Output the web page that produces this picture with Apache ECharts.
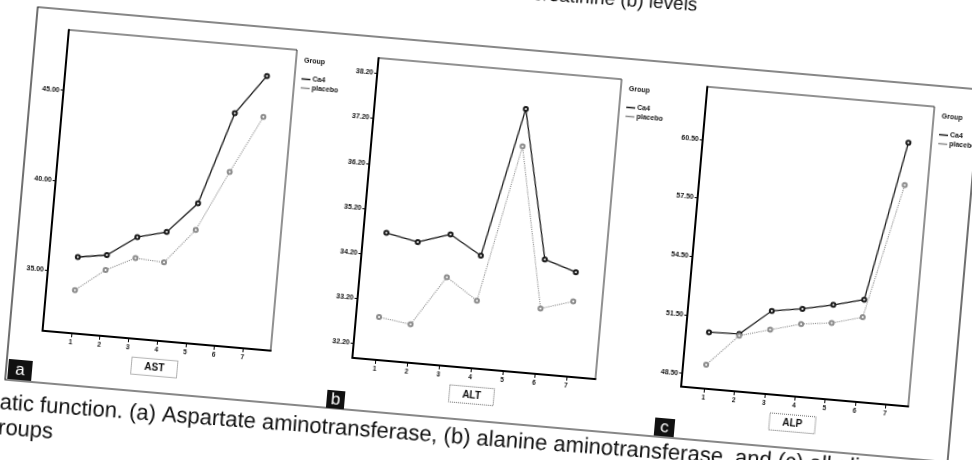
<!DOCTYPE html>
<html><head><meta charset="utf-8">
<script src="https://cdn.jsdelivr.net/npm/echarts@6/dist/echarts.min.js"></script>
<style>
html,body{margin:0;padding:0;width:972px;height:460px;overflow:hidden;background:#fff;}
#wrap{position:absolute;left:-100px;top:-60px;width:1172px;height:580px;transform-origin:586px 290px;transform:rotate(5deg);}
</style></head><body>
<div id="wrap"></div>
<script>
// ---- data ----
const groups = [1, 2, 3, 4, 5, 6, 7];
const astCa4 = [35.86, 36.11, 37.25, 37.67, 39.41, 44.56, 46.77];
const astPlacebo = [34.02, 35.28, 36.08, 35.98, 37.92, 41.29, 44.49];
const altCa4 = [34.70, 34.56, 34.79, 34.38, 37.70, 34.42, 34.20];
const altPlacebo = [32.83, 32.73, 33.84, 33.38, 36.87, 33.33, 33.55];
const alpCa4 = [50.71, 50.76, 52.08, 52.32, 52.66, 53.06, 61.25];
const alpPlacebo = [49.04, 50.67, 51.11, 51.54, 51.73, 52.16, 59.07];
const astTicks = [35, 40, 45];
const altTicks = [32.2, 33.2, 34.2, 35.2, 36.2, 37.2, 38.2];
const alpTicks = [48.5, 51.5, 54.5, 57.5, 60.5];
const panelNames = ['AST', 'ALT', 'ALP'];
const panelLetters = ['a', 'b', 'c'];
const seriesNames = ['Ca4', 'placebo'];
const legendTitle = 'Group';
const captionLine1 = 'hepatic function. (a) Aspartate aminotransferase, (b) alanine aminotransferase, and (c) alkaline phosphatase';
const captionLine2 = 'groups';
const topLine = 'creatinine (b) levels';

// ---- layout ----
const grids = [
  {left: 153, top: 127, width: 229, height: 302},
  {left: 464, top: 128, width: 244, height: 301},
  {left: 794, top: 128, width: 228, height: 301}
];
const xRanges = [[0, 7.96], [0.28, 7.9], [0.24, 7.75]];
const yRanges = [[31.62, 48.36], [31.88, 38.54], [47.82, 63.2]];
const yTicks = [astTicks, altTicks, alpTicks];
const ca4 = [astCa4, altCa4, alpCa4];
const plc = [astPlacebo, altPlacebo, alpPlacebo];
const letterBoxes = [
  {x: 122, y: 460, w: 24, h: 20},
  {x: 442, y: 463, w: 18, h: 18},
  {x: 771, y: 462, w: 20, h: 18}
];

const FONT = 'Liberation Sans, Arial, sans-serif';
const chart = echarts.init(document.getElementById('wrap'), null, {renderer: 'canvas'});

const xAxis = [], yAxis = [], series = [], legend = [], graphic = [];
grids.forEach((g, i) => {
  xAxis.push({
    type: 'value', gridIndex: i, min: xRanges[i][0], max: xRanges[i][1],
    axisLine: {show: true, onZero: false, lineStyle: {color: '#000', width: 2}},
    axisTick: {show: true, inside: false, length: 4, customValues: groups, lineStyle: {color: '#000', width: 1}},
    axisLabel: {show: true, customValues: groups, margin: 6, fontSize: 6.5, fontWeight: 'bold', color: '#111', fontFamily: FONT,
      formatter: v => String(Math.round(v))},
    splitLine: {show: false},
    name: panelNames[i], nameLocation: 'middle', nameGap: 18,
    nameTextStyle: {fontSize: 10, fontWeight: 'bold', color: '#111', fontFamily: FONT,
      borderColor: '#666', borderWidth: 1, borderType: 'dotted', padding: [4, 13, 3, 13]}
  });
  yAxis.push({
    type: 'value', gridIndex: i, min: yRanges[i][0], max: yRanges[i][1],
    axisLine: {show: true, onZero: false, lineStyle: {color: '#000', width: 2}},
    axisTick: {show: true, inside: false, length: 3, customValues: yTicks[i], lineStyle: {color: '#000', width: 1}},
    axisLabel: {show: true, customValues: yTicks[i], margin: 4, fontSize: 7, fontWeight: 'bold', color: '#111', fontFamily: FONT,
      formatter: v => Number(v).toFixed(2)},
    splitLine: {show: false}
  });
  series.push({
    name: seriesNames[0], type: 'line', xAxisIndex: i, yAxisIndex: i,
    data: groups.map((x, k) => [x, ca4[i][k]]),
    symbol: 'emptyCircle', symbolSize: 4,
    lineStyle: {color: '#1a1a1a', width: 1.3},
    itemStyle: {color: '#1a1a1a', borderWidth: 0.8},
    silent: true, animation: false
  });
  series.push({
    name: seriesNames[1], type: 'line', xAxisIndex: i, yAxisIndex: i,
    data: groups.map((x, k) => [x, plc[i][k]]),
    symbol: 'emptyCircle', symbolSize: 4,
    lineStyle: {color: '#8c8c8c', width: 1.1, type: 'dotted'},
    itemStyle: {color: '#8c8c8c', borderWidth: 0.8},
    silent: true, animation: false
  });
  const right = g.left + g.width;
  legend.push({
    orient: 'vertical', left: right + 2, top: 147, data: seriesNames,
    icon: 'rect', itemWidth: 9, itemHeight: 1.5, itemGap: 2, selectedMode: false,
    textStyle: {fontSize: 7, fontWeight: 'bold', color: '#111', fontFamily: FONT, padding: [0, 0, 0, -3]}
  });
  graphic.push({
    type: 'text', left: right + 8, top: 134,
    style: {text: legendTitle, fontSize: 7, fontWeight: 'bold', fill: '#111', fontFamily: FONT}
  });
  const b = letterBoxes[i];
  graphic.push({type: 'rect', shape: {x: b.x, y: b.y, width: b.w, height: b.h}, style: {fill: '#111'}});
  graphic.push({type: 'text', x: b.x + b.w / 2, y: b.y + b.h / 2,
    style: {text: panelLetters[i], fontSize: 17, fill: '#fff', fontFamily: FONT, align: 'center', verticalAlign: 'middle'}});
});

// outer figure frame
graphic.push({type: 'rect', shape: {x: 120, y: 107, width: 946, height: 374},
  style: {fill: 'none', stroke: '#111', lineWidth: 1.2}, z: -1});
// caption text
graphic.push({type: 'text', x: 80, y: 505, rotation: 0.012,
  style: {text: captionLine1, fontSize: 22, fill: '#111', fontFamily: FONT, verticalAlign: 'middle'}});
graphic.push({type: 'text', x: 105, y: 530, rotation: 0.012,
  style: {text: captionLine2, fontSize: 22, fill: '#111', fontFamily: FONT, verticalAlign: 'middle'}});
graphic.push({type: 'text', x: 777, y: 48, rotation: 0.02,
  style: {text: topLine, fontSize: 19, fill: '#111', fontFamily: FONT, align: 'right', verticalAlign: 'middle'}});

chart.setOption({
  animation: false,
  backgroundColor: '#fff',
  grid: grids.map(g => Object.assign({show: true, borderColor: '#222', borderWidth: 1, containLabel: false}, g)),
  xAxis, yAxis, series, legend, graphic
});
</script>
</body></html>
